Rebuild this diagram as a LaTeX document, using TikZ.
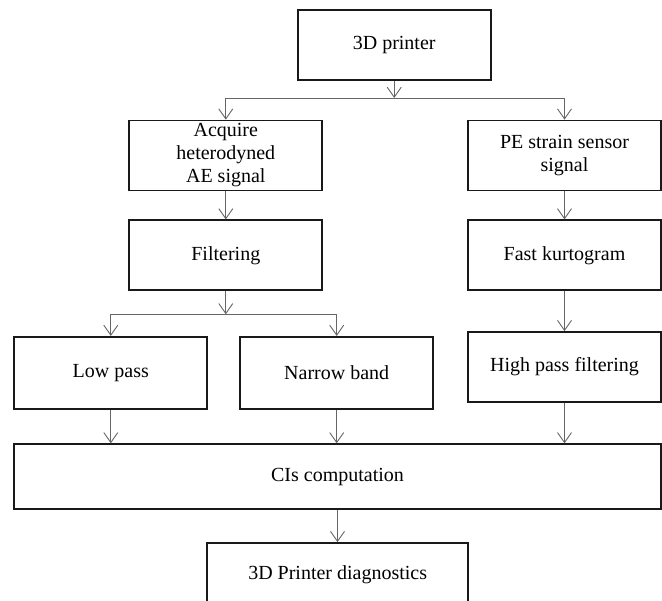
\documentclass[tikz,border=0pt]{standalone}
\usepackage{fontspec}
\setmainfont{Liberation Serif}
\usetikzlibrary{arrows.meta}

\begin{document}
\begin{tikzpicture}[x=1pt,y=-1pt,
  box/.style={draw=black!90,line width=1.7pt,minimum width=193pt,minimum height=70pt,
    inner sep=0pt,align=center,font=\fontsize{20}{23}\selectfont},
  flow/.style={draw=black!60,line width=0.9pt,
    -{Straight Barb[length=10pt,width=14pt,line width=0.9pt]}}]

\clip (0,0) rectangle (662,601);

%top
\node[box] (printer) at (394.2,44.7) {3D printer};
\node[box] (acquire) at (225.8,155.5) {Acquire\\heterodyned\\AE signal};
\node[box] (pe) at (564.5,155.5) {PE strain sensor\\signal};
\coordinate (j1) at (394.2,98);
\path[flow] (printer) -- (j1);
\path[flow] (j1) -| (acquire);
\path[flow] (j1) -| (pe);

%left branch
\node[box] (filter) at (225.8,255.3) {Filtering};
\path[flow] (acquire) -- (filter);
\coordinate (j2) at (225.8,314.3);
\path[flow] (filter) -- (j2);
\node[box,minimum height=72pt] (low) at (110.8,372.8) {Low pass};
\node[box,minimum height=72pt] (narrow) at (336.7,372.8) {Narrow band};
\path[flow] (j2) -| (low);
\path[flow] (j2) -| (narrow);

%right branch
\node[box] (kurto) at (564.5,255.3) {Fast kurtogram};
\node[box] (high) at (564.5,367) {High pass filtering};
\path[flow] (pe) -- (kurto);
\path[flow] (kurto) -- (high);

%bottom
\node[box,minimum width=647pt,minimum height=65pt] (cis) at (337.5,476.7) {CIs computation};
\path[flow] (low) -- (low.south |- cis.north);
\path[flow] (narrow) -- (narrow.south |- cis.north);
\path[flow] (high) -- (high.south |- cis.north);
\node[box,minimum width=261pt,minimum height=64pt] (diag) at (337.7,575) {3D Printer diagnostics};
\path[flow] (cis.south) -- (cis.south |- diag.north);

\end{tikzpicture}
\end{document}
